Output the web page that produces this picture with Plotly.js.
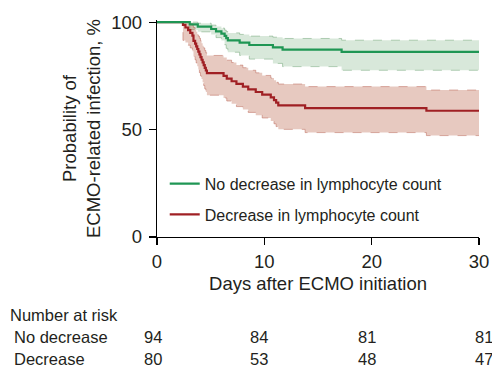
<!DOCTYPE html>
<html>
<head>
<meta charset="utf-8">
<script src="https://cdn.plot.ly/plotly-3.0.1.min.js"></script>
<style>html,body{margin:0;padding:0;background:#fff;}#chart{width:492px;height:376px;}</style>
</head>
<body>
<div id="chart"></div>
<script>
// ---- data ----
const greenName = 'No decrease in lymphocyte count';
const redName = 'Decrease in lymphocyte count';

const greenDays  = [0, 3.05, 3.8, 5.05, 5.5, 6.0, 6.3, 6.45, 6.6, 7.7, 8.6, 10.8, 11.7, 17.2, 30];
const greenSurv  = [100, 98.94, 97.87, 96.81, 95.74, 94.68, 93.62, 92.55, 91.49, 90.43, 89.36, 88.30, 87.23, 86.17, 86.17];
const greenUpper = [100, 100, 99.5, 98.6, 98.0, 97.2, 96.3, 95.6, 95.0, 94.3, 93.5, 93.0, 92.4, 91.6, 91.6];
const greenLower = [100, 96.5, 95.5, 94.2, 92.8, 91.5, 89.5, 87.8, 86.0, 84.5, 82.8, 80.8, 79.3, 77.6, 77.6];

const redDays  = [0, 2.42, 2.65, 2.9, 3.1, 3.3, 3.4, 3.55, 3.65, 3.75, 3.85, 3.95, 4.05, 4.15, 4.25, 4.35, 4.45, 4.55, 4.65,
                  6.2, 6.5, 6.95, 7.4, 8.0, 8.5, 9.2, 9.8, 10.6, 10.9, 11.1, 11.3, 13.8, 25.1, 30];
const redSurv  = [100, 98.75, 97.5, 96.25, 95, 93.75, 91.25, 90, 88.75, 87.5, 86.25, 85, 83.75, 82.5, 81.25, 80, 78.75, 77.5, 76.25,
                  75, 73.75, 72.5, 71.25, 70, 68.75, 67.5, 66.25, 65, 63.75, 62.5, 61.25, 60, 58.75, 58.75];
const redUpper = [100, 100, 99.8, 99.5, 99.2, 98.5, 97.5, 96.5, 95.5, 94.5, 93.5, 92.5, 91.3, 90.2, 89, 88, 86.8, 85.7, 84.5,
                  83.5, 82.3, 81.2, 80, 78.8, 77.6, 76.4, 75.2, 74, 73, 72, 71.2, 70, 68.4, 68.4];
const redLower = [100, 91.5, 90.5, 89.3, 88, 86.5, 84, 82.5, 81, 79.5, 78, 76.5, 75, 73.5, 72, 70.5, 69, 67.5, 66,
                  64.7, 63.3, 62, 60.7, 59.3, 58, 56.7, 55.4, 54, 52.7, 51.4, 50.1, 48.6, 47.2, 47.2];

const xTicks = [0, 10, 20, 30];
const yTicks = [0, 50, 100];
const riskDays = [0, 10, 20, 30];
const riskTitle = 'Number at risk';
const riskLabels = ['No decrease', 'Decrease'];
const riskNoDecrease = [94, 84, 81, 81];
const riskDecrease = [80, 53, 48, 47];

// ---- styles ----
const txt = '#231f20';
const font = 'Liberation Sans, Arial, Helvetica, sans-serif';
const gLine = 'rgb(31,150,84)', rLine = 'rgb(160,32,36)';
const gFill = 'rgba(60,140,70,0.2)', rFill = 'rgba(170,60,30,0.28)';
const gEdge = 'rgba(120,170,125,0.55)', rEdge = 'rgba(190,110,95,0.55)';

function band(x, up, lo, edge, fill) {
  return [
    {x: x, y: up, type: 'scatter', mode: 'lines', line: {shape: 'hv', color: edge, width: 1, dash: 'dash'}, showlegend: false, hoverinfo: 'skip'},
    {x: x, y: lo, type: 'scatter', mode: 'lines', line: {shape: 'hv', color: edge, width: 1, dash: 'dash'}, fill: 'tonexty', fillcolor: fill, showlegend: false, hoverinfo: 'skip'}
  ];
}

const traces = [
  ...band(greenDays, greenUpper, greenLower, gEdge, gFill),
  ...band(redDays, redUpper, redLower, rEdge, rFill),
  {x: redDays, y: redSurv, type: 'scatter', mode: 'lines', name: redName, legendgroup: 'r', legendrank: 2,
   line: {shape: 'hv', color: rLine, width: 2.2}},
  {x: greenDays, y: greenSurv, type: 'scatter', mode: 'lines', name: greenName, legendgroup: 'g', legendrank: 1,
   line: {shape: 'hv', color: gLine, width: 2.2}}
];

const annotations = [];
const rowShift = [-100, -121.5];
const tblSize = 16.5;
annotations.push({xref: 'paper', yref: 'paper', x: 0, y: 0, xanchor: 'left', yanchor: 'middle',
  xshift: -149, yshift: -77.5, text: riskTitle, showarrow: false, font: {size: tblSize, color: txt, family: font}});
riskLabels.forEach((lab, i) => {
  annotations.push({xref: 'paper', yref: 'paper', x: 0, y: 0, xanchor: 'left', yanchor: 'middle',
    xshift: -145, yshift: rowShift[i], text: lab, showarrow: false, font: {size: tblSize, color: txt, family: font}});
});
const colShift = [-4, -5, -5, 5];
[riskNoDecrease, riskDecrease].forEach((row, i) => {
  row.forEach((v, j) => {
    annotations.push({xref: 'x', yref: 'paper', x: riskDays[j], y: 0, xanchor: 'center', yanchor: 'middle',
      xshift: colShift[j], yshift: rowShift[i], text: String(v), showarrow: false, font: {size: tblSize, color: txt, family: font}});
  });
});

const layout = {
  width: 492, height: 376,
  margin: {l: 157.3, r: 12.7, t: 19.8, b: 138.5},
  paper_bgcolor: '#fff', plot_bgcolor: '#fff',
  font: {family: font, color: txt, size: 18.5},
  showlegend: true,
  legend: {x: 0.024, y: 0.324, xanchor: 'left', yanchor: 'top', bgcolor: 'rgba(0,0,0,0)',
    font: {size: 16, color: txt, family: font}, traceorder: 'grouped', tracegroupgap: 7, itemwidth: 30},
  xaxis: {range: [0, 30], tickvals: xTicks, ticktext: xTicks.map(String), showgrid: false, zeroline: false,
    showline: true, linecolor: '#000', linewidth: 1.3, ticks: 'outside', ticklen: 7, tickcolor: '#000', tickwidth: 1.3,
    tickfont: {size: 18.5, color: txt}, fixedrange: true,
    title: {text: 'Days after ECMO initiation', font: {size: 18.5, color: txt}, standoff: 6}},
  yaxis: {range: [0, 101], tickvals: yTicks, ticktext: yTicks.map(String), showgrid: false, zeroline: false,
    showline: true, linecolor: '#000', linewidth: 1.3, ticks: 'outside', ticklen: 7, tickcolor: '#000', tickwidth: 1.3,
    tickfont: {size: 18.5, color: txt}, fixedrange: true, ticklabelstandoff: 3,
    title: {text: 'Probability of<br>ECMO-related infection, %', font: {size: 18.5, color: txt}, standoff: 5}},
  annotations: annotations
};

Plotly.newPlot('chart', traces, layout, {displayModeBar: false, staticPlot: true});
</script>
</body>
</html>
